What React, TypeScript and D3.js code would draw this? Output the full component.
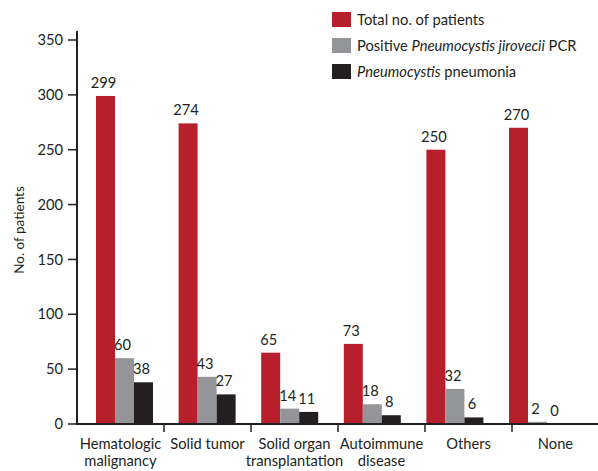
import React from 'react';
import * as d3 from 'd3';

const categories = ['Hematologic\nmalignancy', 'Solid tumor', 'Solid organ\ntransplantation', 'Autoimmune\ndisease', 'Others', 'None'];
const totalPatients = [299, 274, 65, 73, 250, 270];
const positivePcr = [60, 43, 14, 18, 32, 2];
const pneumonia = [38, 27, 11, 8, 6, 0];
const yTicks = [0, 50, 100, 150, 200, 250, 300, 350];

const seriesKeys = ['total', 'pcr', 'pcp'];
const seriesColors = ['#b81f2d', '#939598', '#231f20'];
const textColor = '#231f20';
const font = 'Lato, "Open Sans", sans-serif';

export default function App() {
  const width = 598;
  const height = 471;

  const y = d3.scaleLinear().domain([0, 350]).range([424, 40]);
  // axis bands (ticks / labels)
  const xAxis = d3.scaleBand().domain(categories).range([77, 599]);
  // bar groups sit a little tighter than the axis bands
  const xGroup = d3.scalePoint().domain(categories).range([124.5, 537.5]);
  const xSub = d3.scaleBand().domain(seriesKeys).range([-28.5, 28.5]);

  const series = [totalPatients, positivePcr, pneumonia];

  return (
    <svg width={width} height={height} style={{ position: 'absolute', left: 0, top: 0 }} fontFamily={font}>
      {/* bars */}
      {categories.map((c, i) => (
        <g key={c} transform={`translate(${xGroup(c)},0)`}>
          {series.map((s, j) => {
            const v = s[i];
            const bx = xSub(seriesKeys[j])!;
            return (
              <g key={j}>
                <rect x={bx} y={y(v)} width={xSub.bandwidth()} height={y(0) - y(v)} fill={seriesColors[j]} />
                <text x={bx + xSub.bandwidth() / 2 - 2} y={y(v) - 8} textAnchor="middle" fontSize={14.7} fill={textColor}>
                  {v}
                </text>
              </g>
            );
          })}
        </g>
      ))}

      {/* y axis */}
      <line x1={77} x2={77} y1={31} y2={425} stroke={textColor} strokeWidth={2} />
      {yTicks.map(t => (
        <g key={t} transform={`translate(0,${y(t)})`}>
          <line x1={68} x2={77} stroke={textColor} strokeWidth={1.5} />
          <text x={63} dy="0.35em" textAnchor="end" fontSize={14.7} fill={textColor}>{t}</text>
        </g>
      ))}
      <text transform="translate(24,230) rotate(-90)" textAnchor="middle" fontSize={13.5} fill={textColor}>
        No. of patients
      </text>

      {/* x axis */}
      <line x1={76} x2={598} y1={y(0)} y2={y(0)} stroke={textColor} strokeWidth={2} />
      {categories.map(c => (
        <g key={c}>
          <line x1={xAxis(c)! + xAxis.bandwidth()} x2={xAxis(c)! + xAxis.bandwidth()} y1={y(0)} y2={y(0) + 8} stroke={textColor} strokeWidth={1.5} />
          {c.split('\n').map((line, k) => (
            <text key={k} x={xAxis(c)! + xAxis.bandwidth() / 2} y={449 + k * 17} textAnchor="middle" fontSize={14.7} fill={textColor}>
              {line}
            </text>
          ))}
        </g>
      ))}

      {/* legend */}
      <g transform="translate(332,12)" fontSize={14.7} fill={textColor}>
        <rect x={0} y={0} width={19} height={15} fill={seriesColors[0]} />
        <text x={25} y={13}>Total no. of patients</text>
        <rect x={0} y={26} width={19} height={15} fill={seriesColors[1]} />
        <text x={25} y={39}>
          Positive <tspan fontStyle="italic">Pneumocystis jirovecii</tspan> PCR
        </text>
        <rect x={0} y={52} width={19} height={15} fill={seriesColors[2]} />
        <text x={25} y={65}>
          <tspan fontStyle="italic">Pneumocystis</tspan> pneumonia
        </text>
      </g>
    </svg>
  );
}
